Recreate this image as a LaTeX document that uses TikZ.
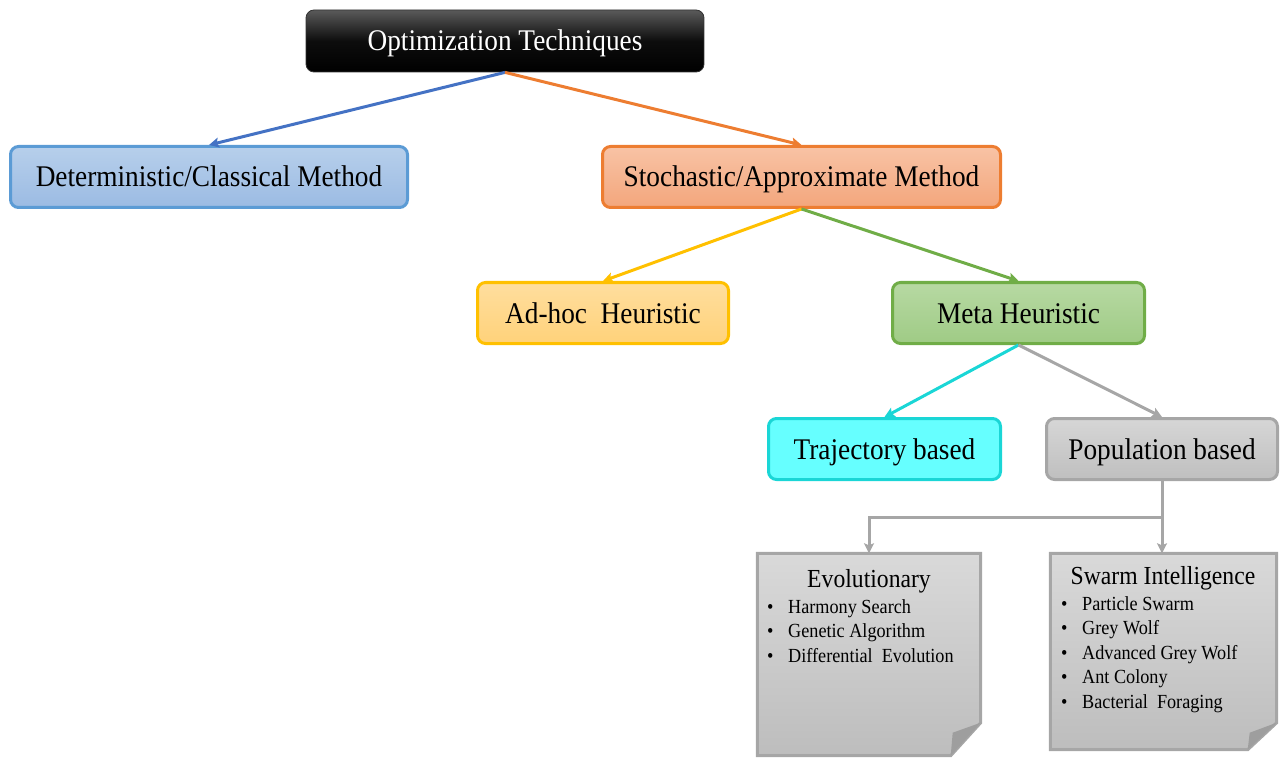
\documentclass[tikz,border=0pt]{standalone}
\usepackage{fontspec}
\setmainfont[FakeStretch=0.91]{Liberation Serif}
\usetikzlibrary{arrows.meta}
\definecolor{topA}{HTML}{5A5A5A}
\definecolor{topB}{HTML}{000000}
\definecolor{detT}{HTML}{B7CFEB}
\definecolor{detB}{HTML}{9BBBE3}
\definecolor{detL}{HTML}{5B9BD5}
\definecolor{detA}{HTML}{4472C4}
\definecolor{stoT}{HTML}{F8C3A5}
\definecolor{stoB}{HTML}{F3A67C}
\definecolor{stoL}{HTML}{ED7D31}
\definecolor{adhT}{HTML}{FFDE9E}
\definecolor{adhB}{HTML}{FFD27A}
\definecolor{adhL}{HTML}{FFC000}
\definecolor{metT}{HTML}{B7D9A3}
\definecolor{metB}{HTML}{9FCB85}
\definecolor{metL}{HTML}{70AD47}
\definecolor{traF}{HTML}{66FFFF}
\definecolor{traL}{HTML}{1AD6D6}
\definecolor{popT}{HTML}{D6D6D6}
\definecolor{popB}{HTML}{BFBFBF}
\definecolor{popL}{HTML}{A6A6A6}
\definecolor{papT}{HTML}{D9D9D9}
\definecolor{papB}{HTML}{BDBDBD}
\definecolor{foldC}{HTML}{9E9E9E}
\begin{document}
\begin{tikzpicture}[x=1pt,y=-1pt,
  box/.style={rectangle, rounded corners=8pt, line width=3pt, minimum height=61pt,
    text height=22pt, text depth=2pt, inner sep=0pt,
    font=\fontsize{30}{36}\selectfont},
  arr/.style={line width=3pt, -{Stealth[length=10pt,width=10pt,inset=2pt]}},
  paper/.style={rectangle, inner sep=0pt},
  papershape/.style={draw=popL, line width=3pt, top color=papT, bottom color=papB, line join=miter},
  ptitle/.style={anchor=base, inner sep=0pt, font=\fontsize{26}{30}\selectfont},
  item/.style={anchor=base west, inner sep=0pt, font=\fontsize{20}{24}\selectfont}
]
\useasboundingbox (0,0) rectangle (1287,759);

% main boxes
\node[box, minimum width=398pt, minimum height=62pt, line width=0.8pt, draw=black!80,
      top color=topA, bottom color=topB, middle color=black!95, text=white] (top) at (505,41) {Optimization Techniques};
\node[box, minimum width=397pt, draw=detL, top color=detT, bottom color=detB] (det) at (209,177) {Deterministic/Classical Method};
\node[box, minimum width=398pt, draw=stoL, top color=stoT, bottom color=stoB] (sto) at (801.5,177) {Stochastic/Approximate Method};
\node[box, minimum width=251pt, draw=adhL, top color=adhT, bottom color=adhB] (adh) at (603,313) {Ad-hoc\ \ Heuristic};
\node[box, minimum width=252pt, draw=metL, top color=metT, bottom color=metB] (met) at (1018.5,313) {Meta Heuristic};
\node[box, minimum width=232pt, draw=traL, fill=traF] (tra) at (884.5,449) {Trajectory based};
\node[box, minimum width=231pt, draw=popL, top color=popT, bottom color=popB] (pop) at (1162,449) {Population based};

% connectors
\draw[arr, detA] (top.south) -- (det.north);
\draw[arr, stoL] (top.south) -- (sto.north);
\draw[arr, adhL] (sto.south) -- (adh.north);
\draw[arr, metL] (sto.south) -- (met.north);
\draw[arr, traL] (met.south) -- (tra.north);
\draw[arr, popL] (met.south) -- (pop.north);

% papers
\node[paper, minimum width=223pt, minimum height=202pt] (evo) at (869,654.5) {};
\node[paper, minimum width=226pt, minimum height=196pt] (swa) at (1163.5,651.5) {};
\foreach \p/\fu/\fs in {evo/33/30, swa/27/29}{
  \path[papershape] (\p.north west) -- (\p.north east) -- ([yshift=\fu pt]\p.south east)
     -- ([xshift=-\fs pt]\p.south east) -- (\p.south west) -- cycle;
  \fill[foldC] ([yshift=\fu pt]\p.south east) -- ([xshift=-\fs pt+2pt,yshift=\fu pt-10pt]\p.south east)
     -- ([xshift=-\fs pt]\p.south east) -- cycle;
}

\coordinate (j) at (1162,517);
\draw[line width=3pt, popL] (pop.south) -- (j);
\draw[arr, popL] (j) -| (evo.north);
\draw[arr, popL] (j) -- (j |- swa.north);

% paper texts
\node[ptitle] (evot) at (869,587.7) {Evolutionary};
\foreach \t [count=\i] in {Harmony Search, Genetic Algorithm, Differential\ \ Evolution}
  \node[item] (evi\i) at (767,{613+24.5*(\i-1)}) {\makebox[21pt][l]{\textbullet}\t};
\node[ptitle] (swat) at (1163,584.3) {Swarm Intelligence};
\foreach \t [count=\i] in {Particle Swarm, Grey Wolf, Advanced Grey Wolf, Ant Colony, Bacterial\ \ Foraging}
  \node[item] (swi\i) at (1061,{610+24.5*(\i-1)}) {\makebox[21pt][l]{\textbullet}\t};
\end{tikzpicture}
\end{document}
